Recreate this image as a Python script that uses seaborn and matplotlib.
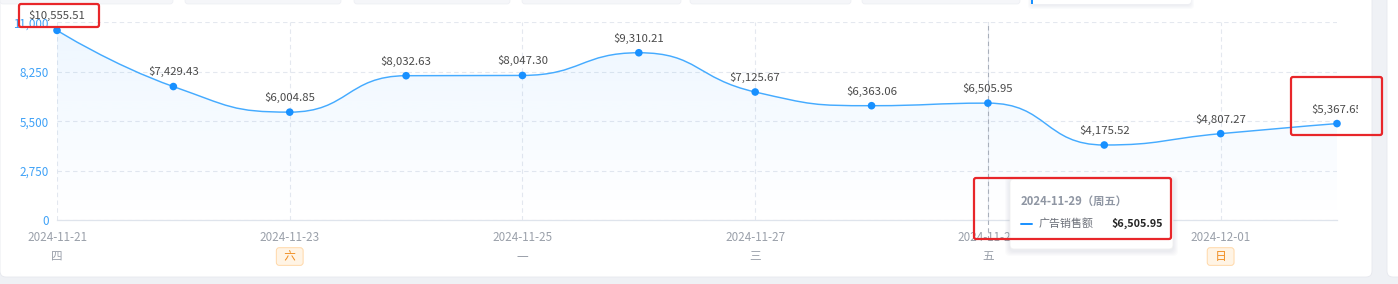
import math
import numpy as np
import matplotlib
matplotlib.use("Agg")
import matplotlib.pyplot as plt
import seaborn as sns
from matplotlib.path import Path
from matplotlib.patches import PathPatch, FancyBboxPatch, Rectangle
from matplotlib.transforms import Bbox

# ---------------- data ----------------
dates = ["2024-11-21", "2024-11-22", "2024-11-23", "2024-11-24", "2024-11-25", "2024-11-26",
         "2024-11-27", "2024-11-28", "2024-11-29", "2024-11-30", "2024-12-01", "2024-12-02"]
weekdays = ["四", "五", "六", "日", "一", "二", "三", "四", "五", "六", "日", "一"]
sales = [10555.51, 7429.43, 6004.85, 8032.63, 8047.30, 9310.21,
         7125.67, 6363.06, 6505.95, 4175.52, 4807.27, 5367.65]
yticks = [0, 2750, 5500, 8250, 11000]
xtick_idx = [0, 2, 4, 6, 8, 10]
weekend_days = ["六", "日"]
tooltip_title = "2024-11-29（周五）"
tooltip_series = "广告销售额"
hover_idx = 8

# ---------------- style ----------------
sns.set_theme(style="white")
plt.rcParams["font.family"] = ["Noto Sans CJK SC", "DejaVu Sans"]

W, H = 1398, 284
fig = plt.figure(figsize=(W / 100, H / 100), dpi=100)

# background (pixel coordinates)
bg = fig.add_axes([0, 0, 1, 1], zorder=0)
bg.set_xlim(0, W)
bg.set_ylim(H, 0)
bg.axis("off")
bg.add_patch(Rectangle((0, 0), W, H, color="#eff1f5", lw=0))
bg.add_patch(FancyBboxPatch((0, -20), 1372, 297, boxstyle="round,pad=0,rounding_size=6",
                            fc="white", ec="#e6e8ee", lw=0.6))
bg.add_patch(FancyBboxPatch((1387, -20), 40, 297, boxstyle="round,pad=0,rounding_size=6",
                            fc="white", ec="#e6e8ee", lw=0.6))
for x0, x1 in [(0, 173), (185, 341), (354, 510), (522, 681), (690, 851), (862, 1020)]:
    bg.add_patch(FancyBboxPatch((x0, -10), x1 - x0, 14, boxstyle="round,pad=0,rounding_size=3",
                                fc="#f5f6f9", ec="#eceef3", lw=0.5))
for k in range(4):
    bg.add_patch(FancyBboxPatch((1031 - k, -10), 160 + 2 * k, 16 + k,
                                boxstyle="round,pad=0,rounding_size=4",
                                fc=(0.55, 0.6, 0.7, 0.035), ec="none"))
bg.add_patch(FancyBboxPatch((1031, -10), 160, 14, boxstyle="round,pad=0,rounding_size=3",
                            fc="white", ec="none"))
bg.add_patch(Rectangle((1031, 0), 2, 4, color="#1890ff", lw=0))

# ---------------- main chart ----------------
left, right, bottom_px, top_px = 57, 1337, 220, 22.4
ax = fig.add_axes([left / W, (H - bottom_px) / H, (right - left) / W, (bottom_px - top_px) / H], zorder=2)
ax.patch.set_alpha(0)
n = len(sales)
xs = np.arange(n)
ax.set_xlim(0, n - 1)
ax.set_ylim(0, 11000)

# echarts-like smooth bezier path (computed in pixel space)
sx = (right - left) / (n - 1)
sy = (bottom_px - top_px) / 11000.0
P = [(i * sx, v * sy) for i, v in zip(xs, sales)]
smooth = 0.5
verts = [P[0]]
codes = [Path.MOVETO]
cp0 = P[0]
for k in range(1, n):
    x, y = P[k]
    px, py = P[k - 1]
    if k + 1 >= n:
        cp1 = (x, y)
        ncp0 = (x, y)
    else:
        nx, ny = P[k + 1]
        vx, vy = nx - px, ny - py
        lp = math.hypot(x - px, y - py)
        ln = math.hypot(nx - x, ny - y)
        r = ln / (ln + lp)
        ncx = x + vx * smooth * r
        ncy = y + vy * smooth * r
        ncx = max(min(ncx, max(nx, x)), min(nx, x))
        ncy = max(min(ncy, max(ny, y)), min(ny, y))
        vx, vy = ncx - x, ncy - y
        c1x = x - vx * lp / ln
        c1y = y - vy * lp / ln
        c1x = max(min(c1x, max(px, x)), min(px, x))
        c1y = max(min(c1y, max(py, y)), min(py, y))
        vx, vy = x - c1x, y - c1y
        ncp0 = (x + vx * ln / lp, y + vy * ln / lp)
        cp1 = (c1x, c1y)
    verts += [cp0, cp1, (x, y)]
    codes += [Path.CURVE4] * 3
    cp0 = ncp0
verts_d = [(vx_ / sx, vy_ / sy) for vx_, vy_ in verts]

line_path = Path(verts_d, codes)
ax.add_patch(PathPatch(line_path, fc="none", ec="#45abff", lw=1.05, zorder=4, capstyle="round"))

area_path = Path(verts_d + [(n - 1, 0), (0, 0), (0, 0)],
                 codes + [Path.LINETO, Path.LINETO, Path.CLOSEPOLY])
clip_patch = PathPatch(area_path, fc="none", ec="none", transform=ax.transData)
ax.add_patch(clip_patch)
grad = np.zeros((256, 1, 4))
grad[:, 0, 0] = 24 / 255
grad[:, 0, 1] = 144 / 255
grad[:, 0, 2] = 255 / 255
grad[:, 0, 3] = np.linspace(0.075, 0.0, 256)
im = ax.imshow(grad, extent=[0, n - 1, 0, max(sales)], origin="upper", aspect="auto", zorder=1)
im.set_clip_path(clip_patch)
ax.set_xlim(0, n - 1)
ax.set_ylim(0, 11000)

sns.scatterplot(x=xs, y=sales, ax=ax, color="#1890ff", s=30, edgecolor="none", zorder=5,
                clip_on=False, legend=False)

# data labels
clipbox = Bbox.from_extents(0, 0, 1358, H)
for i, v in zip(xs, sales):
    t = ax.annotate(f"${v:,.2f}", (i, v), xytext=(0, 10.5), textcoords="offset points",
                    ha="center", va="center", fontsize=8.2, color="#4a4a4a", zorder=6,
                    annotation_clip=False)
    t.set_clip_on(True)
    t.set_clip_box(clipbox)

# axes styling
ax.set_yticks(yticks)
ax.set_yticklabels([f"{t:,}" for t in yticks])
ax.set_xticks(xtick_idx)
ax.set_xticklabels([dates[i] for i in xtick_idx])
ax.tick_params(axis="y", length=0, pad=6, labelsize=8.4, labelcolor="#3ea1f7")
ax.tick_params(axis="x", length=0, pad=8, labelsize=8.4, labelcolor="#9aa0aa")
ax.grid(axis="both", ls=(0, (4, 3)), color="#e4e8ef", lw=0.8)
ax.set_axisbelow(True)
for s in ["top", "right", "left"]:
    ax.spines[s].set_visible(False)
ax.spines["bottom"].set_color("#dfe4ec")
ax.spines["bottom"].set_linewidth(0.9)
ax.set_xlabel("")
ax.set_ylabel("")

# weekday labels
for i in xtick_idx:
    wd = weekdays[i]
    if wd in weekend_days:
        ax.annotate(f"  {wd}  ", (i, 0), xycoords=("data", "axes fraction"), xytext=(0, -26.3),
                    textcoords="offset points", ha="center", va="center", fontsize=8.4,
                    color="#f08c1e",
                    bbox=dict(boxstyle="round,pad=0.2,rounding_size=0.25", fc="#fff4e5",
                              ec="#ffd8a8", lw=0.7))
    else:
        ax.annotate(wd, (i, 0), xycoords=("data", "axes fraction"), xytext=(0, -26.3),
                    textcoords="offset points", ha="center", va="center", fontsize=8.4,
                    color="#9aa0aa")

# hover crosshair
ax.plot([hover_idx, hover_idx], [-1100, 11000], ls=(0, (4, 3)), color="#a8afbb", lw=0.8,
        clip_on=False, zorder=3)

# ---------------- overlay (tooltip & highlight boxes) ----------------
ov = fig.add_axes([0, 0, 1, 1], zorder=10)
ov.set_xlim(0, W)
ov.set_ylim(H, 0)
ov.axis("off")
ov.patch.set_alpha(0)

for k in range(1, 6):
    ov.add_patch(FancyBboxPatch((1010 - k, 179 - k + 2), 163 + 2 * k, 70 + 2 * k,
                                boxstyle="round,pad=0,rounding_size=5",
                                fc=(0.3, 0.35, 0.45, 0.018), ec="none"))
ov.add_patch(FancyBboxPatch((1010, 179), 163, 70, boxstyle="round,pad=0,rounding_size=4",
                            fc="white", ec="#f0f0f0", lw=0.6))
ov.text(1021, 201, tooltip_title, ha="left", va="center", fontsize=8.1, fontweight="bold",
        color="#8f96a3")
ov.plot([1021, 1032], [223.5, 223.5], color="#1890ff", lw=1.4)
ov.text(1039, 223.5, tooltip_series, ha="left", va="center", fontsize=7.9, color="#6b6f78")
ov.text(1163, 223.5, f"${sales[hover_idx]:,.2f}", ha="right", va="center", fontsize=7.8,
        fontweight="bold", color="#262626")

red = "#e8262a"
for (x0, y0, x1, y1) in [(19, 4, 99, 27), (1291, 77, 1382, 135), (974, 178, 1171, 239)]:
    ov.add_patch(FancyBboxPatch((x0, y0), x1 - x0, y1 - y0, boxstyle="round,pad=0,rounding_size=2",
                                fc="none", ec=red, lw=1.6))

fig.savefig("out.png", dpi=100)
